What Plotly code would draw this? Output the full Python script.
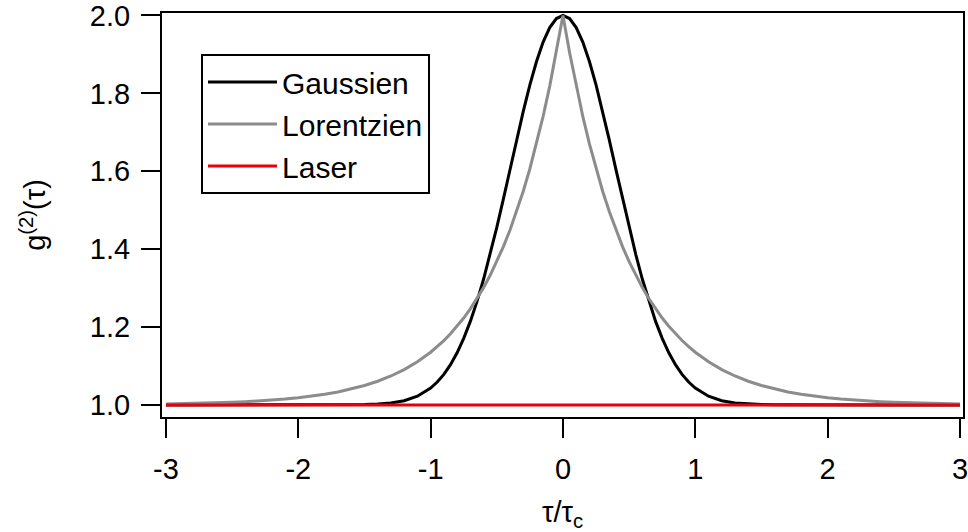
import plotly.graph_objects as go

# tau / tau_c (positive half; curves are symmetric about 0)
tau = [0.0, 0.05, 0.1, 0.15, 0.2, 0.25, 0.3, 0.35, 0.4, 0.45, 0.5,
       0.55, 0.6, 0.65, 0.7, 0.75, 0.8, 0.85, 0.9, 0.95, 1.0,
       1.1, 1.2, 1.3, 1.4, 1.5, 1.6, 1.7, 1.8, 1.9, 2.0,
       2.1, 2.2, 2.3, 2.4, 2.5, 2.6, 2.7, 2.8, 2.9, 3.0]

g2_gauss = [2.0, 1.9922, 1.9691, 1.9317, 1.8819, 1.8217, 1.7537, 1.6806, 1.6049, 1.5293, 1.4559,
            1.3866, 1.3227, 1.2652, 1.2145, 1.1708, 1.1339, 1.1033, 1.0785, 1.0587, 1.0432,
            1.0223, 1.0108, 1.0049, 1.0021, 1.0009, 1.0003, 1.0001, 1.0, 1.0, 1.0,
            1.0, 1.0, 1.0, 1.0, 1.0, 1.0, 1.0, 1.0, 1.0, 1.0]

g2_lorentz = [2.0, 1.9048, 1.8187, 1.7408, 1.6703, 1.6065, 1.5488, 1.4966, 1.4493, 1.4066, 1.3679,
              1.3329, 1.3012, 1.2725, 1.2466, 1.2231, 1.2019, 1.1827, 1.1653, 1.1496, 1.1353,
              1.1108, 1.0907, 1.0743, 1.0608, 1.0498, 1.0408, 1.0334, 1.0273, 1.0224, 1.0183,
              1.0150, 1.0123, 1.0101, 1.0082, 1.0067, 1.0055, 1.0045, 1.0037, 1.0030, 1.0025]

tau_laser = [-3.0, 3.0]
g2_laser = [1.0, 1.0]

x_ticks = [-3, -2, -1, 0, 1, 2, 3]
y_ticks = [1.0, 1.2, 1.4, 1.6, 1.8, 2.0]


def mirror(vals, neg=False):
    rev = list(reversed(vals[1:]))
    if neg:
        rev = [-v for v in rev]
    return rev + list(vals)


tau_full = mirror(tau, neg=True)

FONT = "Liberation Sans, Arial, Helvetica, sans-serif"

fig = go.Figure()

fig.add_trace(go.Scatter(x=tau_full, y=mirror(g2_gauss), mode='lines', name='Gaussien',
                         line=dict(color='black', width=3)))
fig.add_trace(go.Scatter(x=tau_full, y=mirror(g2_lorentz), mode='lines', name='Lorentzien',
                         line=dict(color='#8c8c8c', width=3)))
fig.add_trace(go.Scatter(x=tau_laser, y=g2_laser, mode='lines', name='Laser',
                         line=dict(color='#e8000b', width=3)))

axis_style = dict(
    showline=True, linecolor='black', linewidth=2, mirror=True,
    ticks='outside', ticklen=19, tickwidth=2, tickcolor='black',
    showgrid=False, zeroline=False, ticklabeloverflow='allow', automargin=False,
    tickfont=dict(family=FONT, size=29, color='black'),
)

fig.update_layout(
    width=968, height=532,
    margin=dict(l=162, r=5, t=13, b=115),
    plot_bgcolor='white', paper_bgcolor='white',
    font=dict(family=FONT, color='black'),
    showlegend=True,
    legend=dict(x=0.0487, y=0.8985, xanchor='left', yanchor='top',
                bordercolor='black', borderwidth=2, bgcolor='white',
                itemwidth=69,
                font=dict(family=FONT, size=30, color='black'),
                tracegroupgap=0),
    xaxis=dict(range=[-3.03, 3.023], tickvals=x_ticks, ticktext=[str(v) for v in x_ticks],
               ticklabelstandoff=6,
               title=dict(text='τ/τ<sub>c</sub>', font=dict(family=FONT, size=29), standoff=19),
               **axis_style),
    yaxis=dict(range=[0.969, 2.0064], tickvals=y_ticks, ticktext=[f"{v:.1f}" for v in y_ticks],
               ticklabelstandoff=5,
               title=dict(text='g<sup>(2)</sup>(τ)', font=dict(family=FONT, size=29), standoff=36),
               **axis_style),
)

# drop the default page margin so the figure sits at the window's corner
page_css = ("document.documentElement.style.overflow='hidden';"
            "document.body.style.margin='0';document.body.style.overflow='hidden';")
fig.write_html("out.html", post_script=page_css, config={'displayModeBar': False})
